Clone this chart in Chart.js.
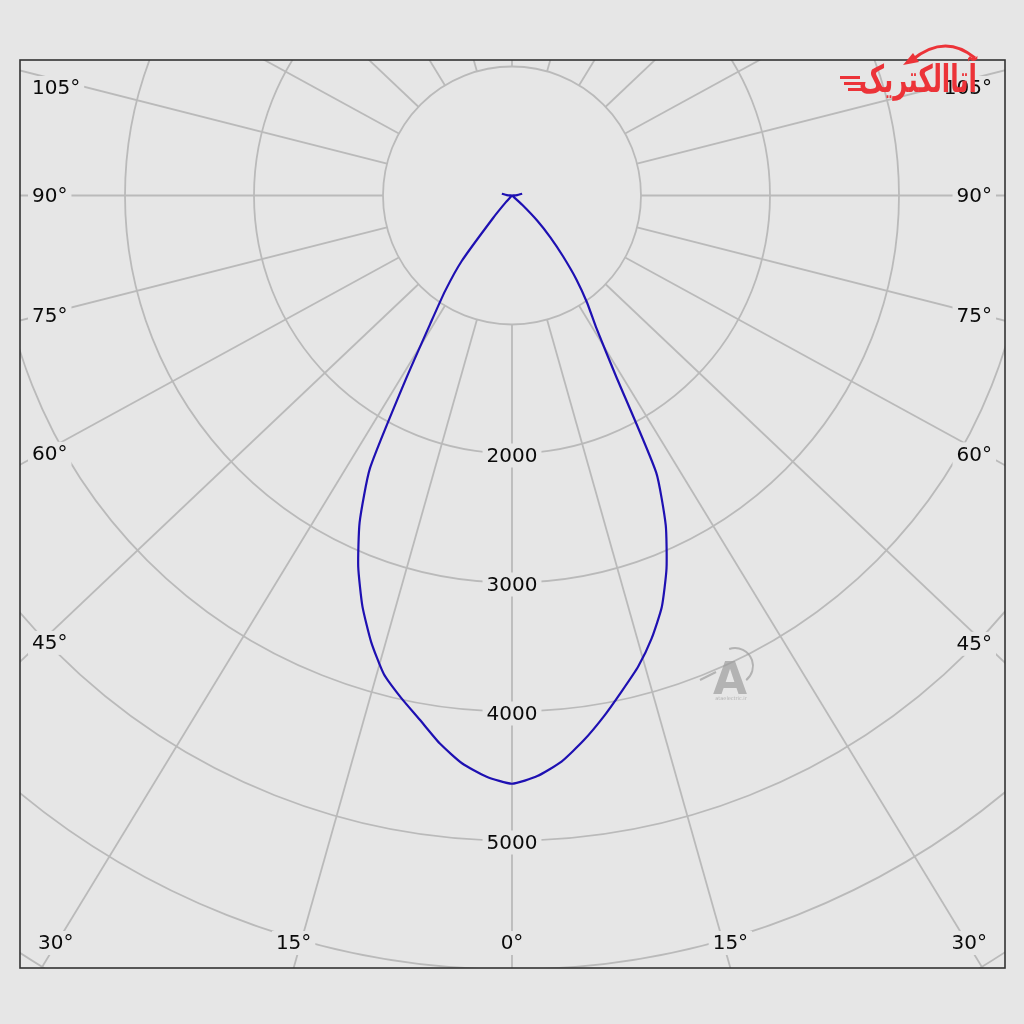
<!DOCTYPE html>
<html>
<head>
<meta charset="utf-8">
<script src="https://cdn.jsdelivr.net/npm/chart.js@4.4.1/dist/chart.umd.min.js"></script>
<style>
html,body{margin:0;padding:0;background:#e6e6e6;}
canvas{display:block;}
</style>
</head>
<body>
<canvas id="c" width="1024" height="1024"></canvas>
<script>
// ---- data (angle in degrees from nadir, luminous intensity in cd) ----
const angles = [-100,-95,-90,-45,-42.5,-40,-37.5,-35,-32.5,-30,-27.5,-25,-22.5,-20,-17.5,-15,-12.5,-10,-7.5,-5,-2.5,
                0,2.5,5,7.5,10,12.5,15,17.5,20,22.5,25,27.5,30,32.5,35,37.5,40,42.5,45,47.5,50,90,95,100];
const intensities = [80,40,0,0,70,230,640,905,1180,1650,2385,2795,3115,3390,3630,3840,3985,4125,4285,4420,4510,
                     4560,4505,4405,4260,4100,3935,3780,3600,3395,3130,2820,2420,1600,1215,1015,820,615,440,280,110,0,0,40,80];
const ringValues = [1000,2000,3000,4000,5000,6000,7000];
const ringLabelValues = [2000,3000,4000,5000];
const angleTicks = [0,15,30,45,60,75,90,105];
const spokeStep = 15;

// ---- layout ----
const CX = 512, CY = 195.5, PX_PER_CD = 0.129;
const AREA = {l:20, t:60, r:1005, b:968};
const GRID_ASPECT = 1.055;
const BG = '#e6e6e6', GRID = '#bababa', CURVE = '#1e10b2', TEXT = '#0a0a0a';
const FONT = '20px "DejaVu Sans", Verdana, sans-serif';

const xMin = -(CX-AREA.l)/PX_PER_CD, xMax = (AREA.r-CX)/PX_PER_CD;
const yMax = (CY-AREA.t)/PX_PER_CD, yMin = -(AREA.b-CY)/PX_PER_CD;

const points = angles.map((a,i)=>{
  const t = a*Math.PI/180;
  return {x: intensities[i]*Math.sin(t), y: -intensities[i]*Math.cos(t)};
});

function labelBox(ctx, text, x, y, align){
  ctx.font = FONT;
  const w = ctx.measureText(text).width;
  let left = align==='left' ? x : align==='right' ? x-w : x-w/2;
  ctx.fillStyle = BG;
  ctx.fillRect(left-4, y-12, w+8, 24);
  ctx.fillStyle = TEXT;
  ctx.textAlign = align;
  ctx.textBaseline = 'middle';
  ctx.fillText(text, x, y+1);
}

const polarGrid = {
  id:'polarGrid',
  beforeDraw(chart){
    const {ctx} = chart;
    ctx.save(); ctx.fillStyle = BG; ctx.fillRect(0,0,chart.width,chart.height); ctx.restore();
  },
  beforeDatasetsDraw(chart){
    const {ctx, chartArea:ca, scales:{x,y}} = chart;
    const cx = x.getPixelForValue(0), cy = y.getPixelForValue(0);
    ctx.save();
    ctx.beginPath(); ctx.rect(ca.left, ca.top, ca.right-ca.left, ca.bottom-ca.top); ctx.clip();
    ctx.strokeStyle = GRID; ctx.lineWidth = 1.8;
    ringValues.forEach(v=>{
      const r = x.getPixelForValue(v)-cx;
      ctx.beginPath(); ctx.arc(cx, cy, r, 0, Math.PI*2); ctx.stroke();
    });
    const r0 = x.getPixelForValue(ringValues[0])-cx;
    for(let a=0;a<360;a+=spokeStep){
      const t=a*Math.PI/180;
      let dx=Math.sin(t)*GRID_ASPECT, dy=Math.cos(t);
      const n=Math.hypot(dx,dy); dx/=n; dy/=n;
      ctx.beginPath();
      ctx.moveTo(cx+dx*r0, cy+dy*r0);
      ctx.lineTo(cx+dx*2000, cy+dy*2000);
      ctx.stroke();
    }
    ctx.restore();
  },
  afterDatasetsDraw(chart){
    const {ctx, chartArea:ca, scales:{x,y}} = chart;
    const cx = x.getPixelForValue(0), cy = y.getPixelForValue(0);
    ctx.save();
    ringLabelValues.forEach(v=>{
      labelBox(ctx, String(v), cx, y.getPixelForValue(-v)+2, 'center');
    });
    angleTicks.forEach(a=>{
      const sides = a===0 ? [1] : [-1,1];
      sides.forEach(s=>{
        const t=a*Math.PI/180;
        let dx=s*Math.sin(t)*GRID_ASPECT, dy=Math.cos(t);
        const n=Math.hypot(dx,dy); dx/=n; dy/=n;
        const txt = a+'°';
        const tSide = Math.abs(dx)>1e-9 ? ((dx<0?ca.left:ca.right)-cx)/dx : Infinity;
        const tBottom = dy>1e-9 ? (ca.bottom-cy)/dy : Infinity;
        if(tBottom < tSide){
          ctx.font = FONT;
          const w = ctx.measureText(txt).width;
          let px = cx+dx*tBottom;
          px = Math.max(ca.left+18+w/2, Math.min(ca.right-18-w/2, px));
          labelBox(ctx, txt, px, ca.bottom-25, 'center');
        } else {
          const xl = dx<0 ? ca.left+20 : ca.right-20;
          let py = cy + dy*((xl-cx)/dx);
          py = Math.max(ca.top+28, Math.min(ca.bottom-27, py));
          if(dx<0) labelBox(ctx, txt, ca.left+12, py, 'left');
          else labelBox(ctx, txt, ca.right-13, py, 'right');
        }
      });
    });
    ctx.strokeStyle = '#333'; ctx.lineWidth = 1.6;
    ctx.strokeRect(ca.left, ca.top, ca.right-ca.left, ca.bottom-ca.top);
    ctx.restore();
    drawWatermark(ctx);
    drawLogo(ctx);
  }
};

function drawLogo(ctx){
  ctx.save();
  const red = '#ec3338';
  ctx.fillStyle = red; ctx.strokeStyle = red;
  ctx.fillRect(840,76,20,3);
  ctx.fillRect(844,82,18,3);
  ctx.fillRect(848,88,14,3);
  ctx.font = 'bold 38px "DejaVu Sans", sans-serif';
  ctx.direction = 'rtl';
  ctx.textAlign = 'right';
  ctx.textBaseline = 'alphabetic';
  const txt = 'آتاالکتریک';
  const w = ctx.measureText(txt).width;
  ctx.translate(977, 92);
  ctx.scale(118/w, 1);
  ctx.fillText(txt, 0, 0);
  ctx.setTransform(1,0,0,1,0,0);
  ctx.lineWidth = 3;
  ctx.beginPath();
  ctx.moveTo(912,60);
  ctx.quadraticCurveTo(945,33,975,58);
  ctx.stroke();
  ctx.beginPath();
  ctx.moveTo(903,65); ctx.lineTo(913,53); ctx.lineTo(919,62); ctx.closePath(); ctx.fill();
  ctx.restore();
}

function drawWatermark(ctx){
  ctx.save();
  ctx.globalAlpha = 0.7;
  ctx.fillStyle = '#9c9c9c'; ctx.strokeStyle = '#9c9c9c';
  ctx.font = 'bold 44px "DejaVu Sans", sans-serif';
  ctx.textAlign = 'center'; ctx.textBaseline = 'alphabetic';
  ctx.fillText('A', 730, 694);
  ctx.lineWidth = 2;
  ctx.beginPath(); ctx.arc(735, 666, 18, -1.9, 0.9); ctx.stroke();
  ctx.beginPath(); ctx.moveTo(700,680); ctx.lineTo(716,672); ctx.stroke();
  ctx.font = '5px "DejaVu Sans", sans-serif';
  ctx.fillText('ataelectric.ir', 731, 700);
  ctx.restore();
}

new Chart(document.getElementById('c'), {
  type:'scatter',
  data:{ datasets:[{
    data: points,
    showLine: true,
    borderColor: CURVE,
    borderWidth: 2.2,
    pointRadius: 0,
    fill: false,
    tension: 0.18,
    borderJoinStyle: 'round'
  }]},
  options:{
    responsive:false,
    animation:false,
    devicePixelRatio:1,
    layout:{padding:{left:AREA.l, top:AREA.t, right:1024-AREA.r, bottom:1024-AREA.b}},
    plugins:{legend:{display:false}, tooltip:{enabled:false}},
    scales:{
      x:{type:'linear', display:false, min:xMin, max:xMax, bounds:'data'},
      y:{type:'linear', display:false, min:yMin, max:yMax, bounds:'data'}
    }
  },
  plugins:[polarGrid]
});
</script>
</body>
</html>
